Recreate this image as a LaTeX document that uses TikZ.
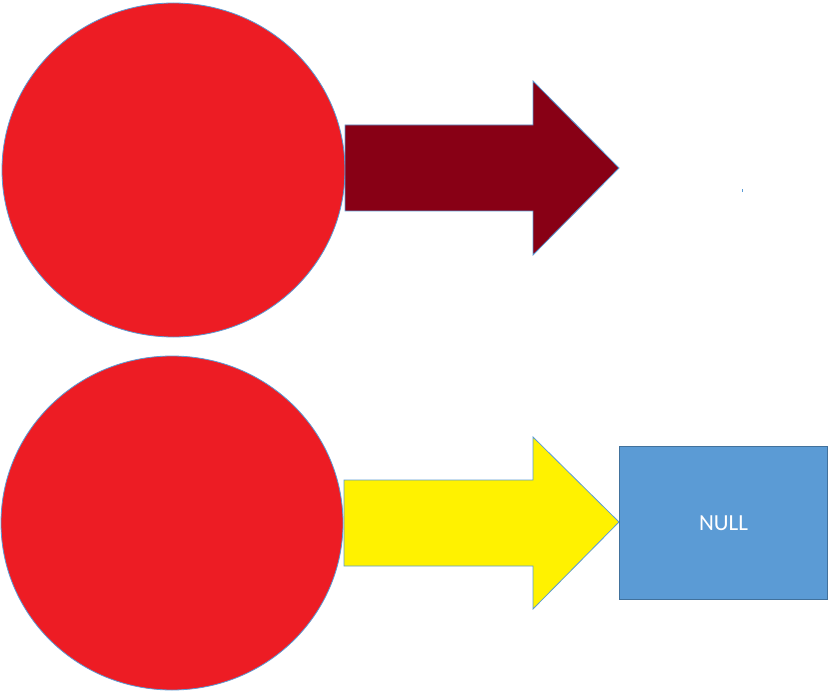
\documentclass[tikz,border=0pt]{standalone}
\usepackage{fontspec}
\setmainfont{Carlito}
\definecolor{ballred}{HTML}{ED1C24}
\definecolor{darkred}{HTML}{880015}
\definecolor{yel}{HTML}{FFF200}
\definecolor{boxblue}{HTML}{5B9BD5}
\definecolor{edgeblue}{HTML}{41719C}
\definecolor{lineblue}{HTML}{5B9BD5}
\tikzset{
  ball/.style={fill=ballred, draw=lineblue, line width=0.8pt},
  bigarrow/.style={draw=lineblue, line width=0.8pt, line join=miter},
  nullbox/.style={draw=edgeblue, fill=boxblue, line width=1pt, minimum width=208pt, minimum height=153pt, inner sep=0pt, text=white, font=\fontsize{23}{26}\selectfont}
}
\begin{document}
\begin{tikzpicture}[x=1pt,y=-1pt]
\useasboundingbox (0,0) rectangle (833,695);
% circles
\draw[ball] (173.5,170) ellipse [x radius=171.5, y radius=167];
\draw[ball] (172,523) ellipse [x radius=171, y radius=167];
% top arrow
\draw[bigarrow, fill=darkred] (345,125) -- (533,125) -- (533,81) -- (619,168) -- (533,255) -- (533,211) -- (345,211) -- cycle;
% bottom arrow
\draw[bigarrow, fill=yel] (344,480) -- (533,480) -- (533,437) -- (619,522) -- (533,609) -- (533,566) -- (344,566) -- cycle;
% NULL box
\node[nullbox, anchor=north west] (null) at (619,446) {NULL};
% tiny mark
\fill[lineblue] (742,189) rectangle (743,192);
\end{tikzpicture}
\end{document}
